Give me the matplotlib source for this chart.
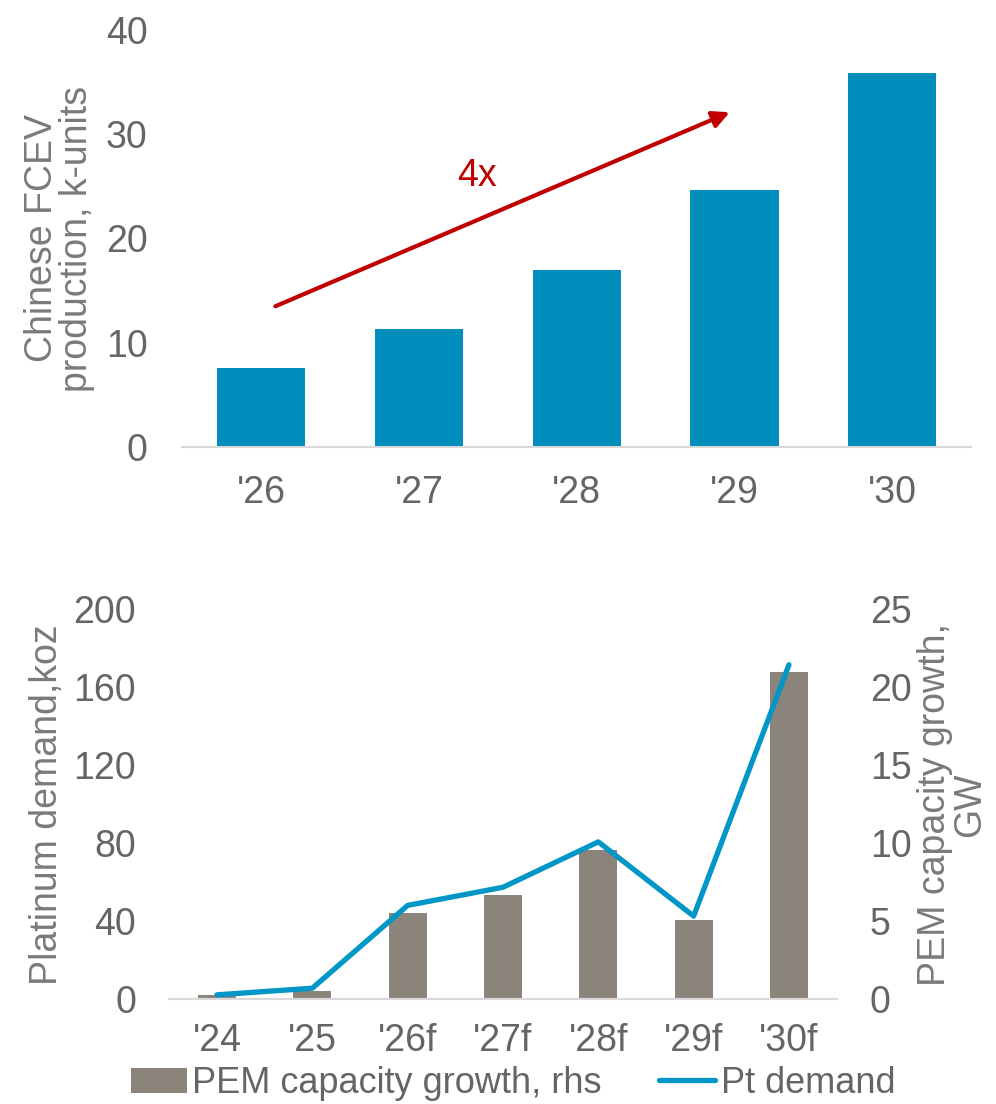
import matplotlib.pyplot as plt

plt.rcParams['font.family'] = ['Liberation Sans', 'DejaVu Sans']

# Top panel: Chinese FCEV production
fcev_years = ["'26", "'27", "'28", "'29", "'30"]
fcev_units = [7.6, 11.3, 17.0, 24.6, 35.9]

# Bottom panel: PEM capacity growth (GW, rhs) and Pt demand (koz)
pem_years = ["'24", "'25", "'26f", "'27f", "'28f", "'29f", "'30f"]
pem_gw = [0.24, 0.55, 5.5, 6.7, 9.55, 5.1, 21.0]
pt_koz = [2.2, 5.6, 48.1, 57.4, 80.7, 42.6, 171.6]

blue = '#008FBC'
line_blue = '#0096C6'
grey_bar = '#8B847A'
tick_grey = '#656565'
label_grey = '#7A7A7A'
axis_grey = '#D9D9D9'
fs = 27

fig = plt.figure(figsize=(9.96, 11.04), dpi=100)

# --- top chart ---
ax1 = fig.add_axes([0.183, 0.595, 0.792, 0.378])
x1 = range(len(fcev_years))
ax1.bar(x1, fcev_units, width=0.56, color=blue)
ax1.set_xlim(-0.5, 4.5)
ax1.set_ylim(0, 40)
ax1.set_yticks([0, 10, 20, 30, 40])
ax1.set_xticks(list(x1))
ax1.set_xticklabels(fcev_years)
ax1.set_ylabel('Chinese FCEV\nproduction, k-units', fontsize=fs, color=label_grey,
               labelpad=8, linespacing=0.95)
for s in ['top', 'right', 'left']:
    ax1.spines[s].set_visible(False)
ax1.spines['bottom'].set_color(axis_grey)
ax1.spines['bottom'].set_linewidth(1.5)
ax1.tick_params(axis='both', length=0, labelsize=fs, labelcolor=tick_grey)
ax1.tick_params(axis='x', pad=20)
ax1.tick_params(axis='y', pad=25)

ax1.annotate('', xy=(2.97, 32.1), xytext=(0.09, 13.5),
             arrowprops=dict(arrowstyle='-|>', color='#C00000', lw=3,
                             mutation_scale=25, shrinkA=0, shrinkB=0))
ax1.text(1.37, 26, '4x', color='#C00000', fontsize=fs, ha='center', va='center')

# --- bottom chart ---
ax2 = fig.add_axes([0.170, 0.095, 0.670, 0.353])
ax3 = ax2.twinx()
x2 = list(range(len(pem_years)))
bars = ax3.bar(x2, pem_gw, width=0.4, color=grey_bar, label='PEM capacity growth, rhs')
line, = ax2.plot(x2, pt_koz, color=line_blue, lw=3.8, solid_capstyle='round',
                 label='Pt demand')
ax2.set_zorder(ax3.get_zorder() + 1)
ax2.patch.set_visible(False)

ax2.set_xlim(-0.5, 6.5)
ax2.set_ylim(0, 200)
ax3.set_ylim(0, 25)
ax2.set_yticks([0, 40, 80, 120, 160, 200])
ax3.set_yticks([0, 5, 10, 15, 20, 25])
ax2.set_xticks(x2)
ax2.set_xticklabels(pem_years)
ax2.set_ylabel('Platinum demand,koz', fontsize=fs, color=label_grey, labelpad=6)
ax3.set_ylabel('PEM capacity growth,\nGW', fontsize=fs, color=label_grey,
               labelpad=4, linespacing=0.95)
for ax in (ax2, ax3):
    for s in ['top', 'right', 'left']:
        ax.spines[s].set_visible(False)
    ax.spines['bottom'].set_color(axis_grey)
    ax.spines['bottom'].set_linewidth(1.5)
    ax.tick_params(axis='both', length=0, labelsize=fs, labelcolor=tick_grey)
ax2.tick_params(axis='x', pad=17)
ax2.tick_params(axis='y', pad=24)
ax3.tick_params(axis='y', pad=24)

fig.legend(handles=[bars, line], loc='center', bbox_to_anchor=(0.515, 0.0185),
           ncol=2, frameon=False, fontsize=26, handlelength=1.55,
           handletextpad=0.15, columnspacing=1.6, labelcolor=tick_grey,
           borderpad=0)

plt.savefig('out.png', dpi=100)
